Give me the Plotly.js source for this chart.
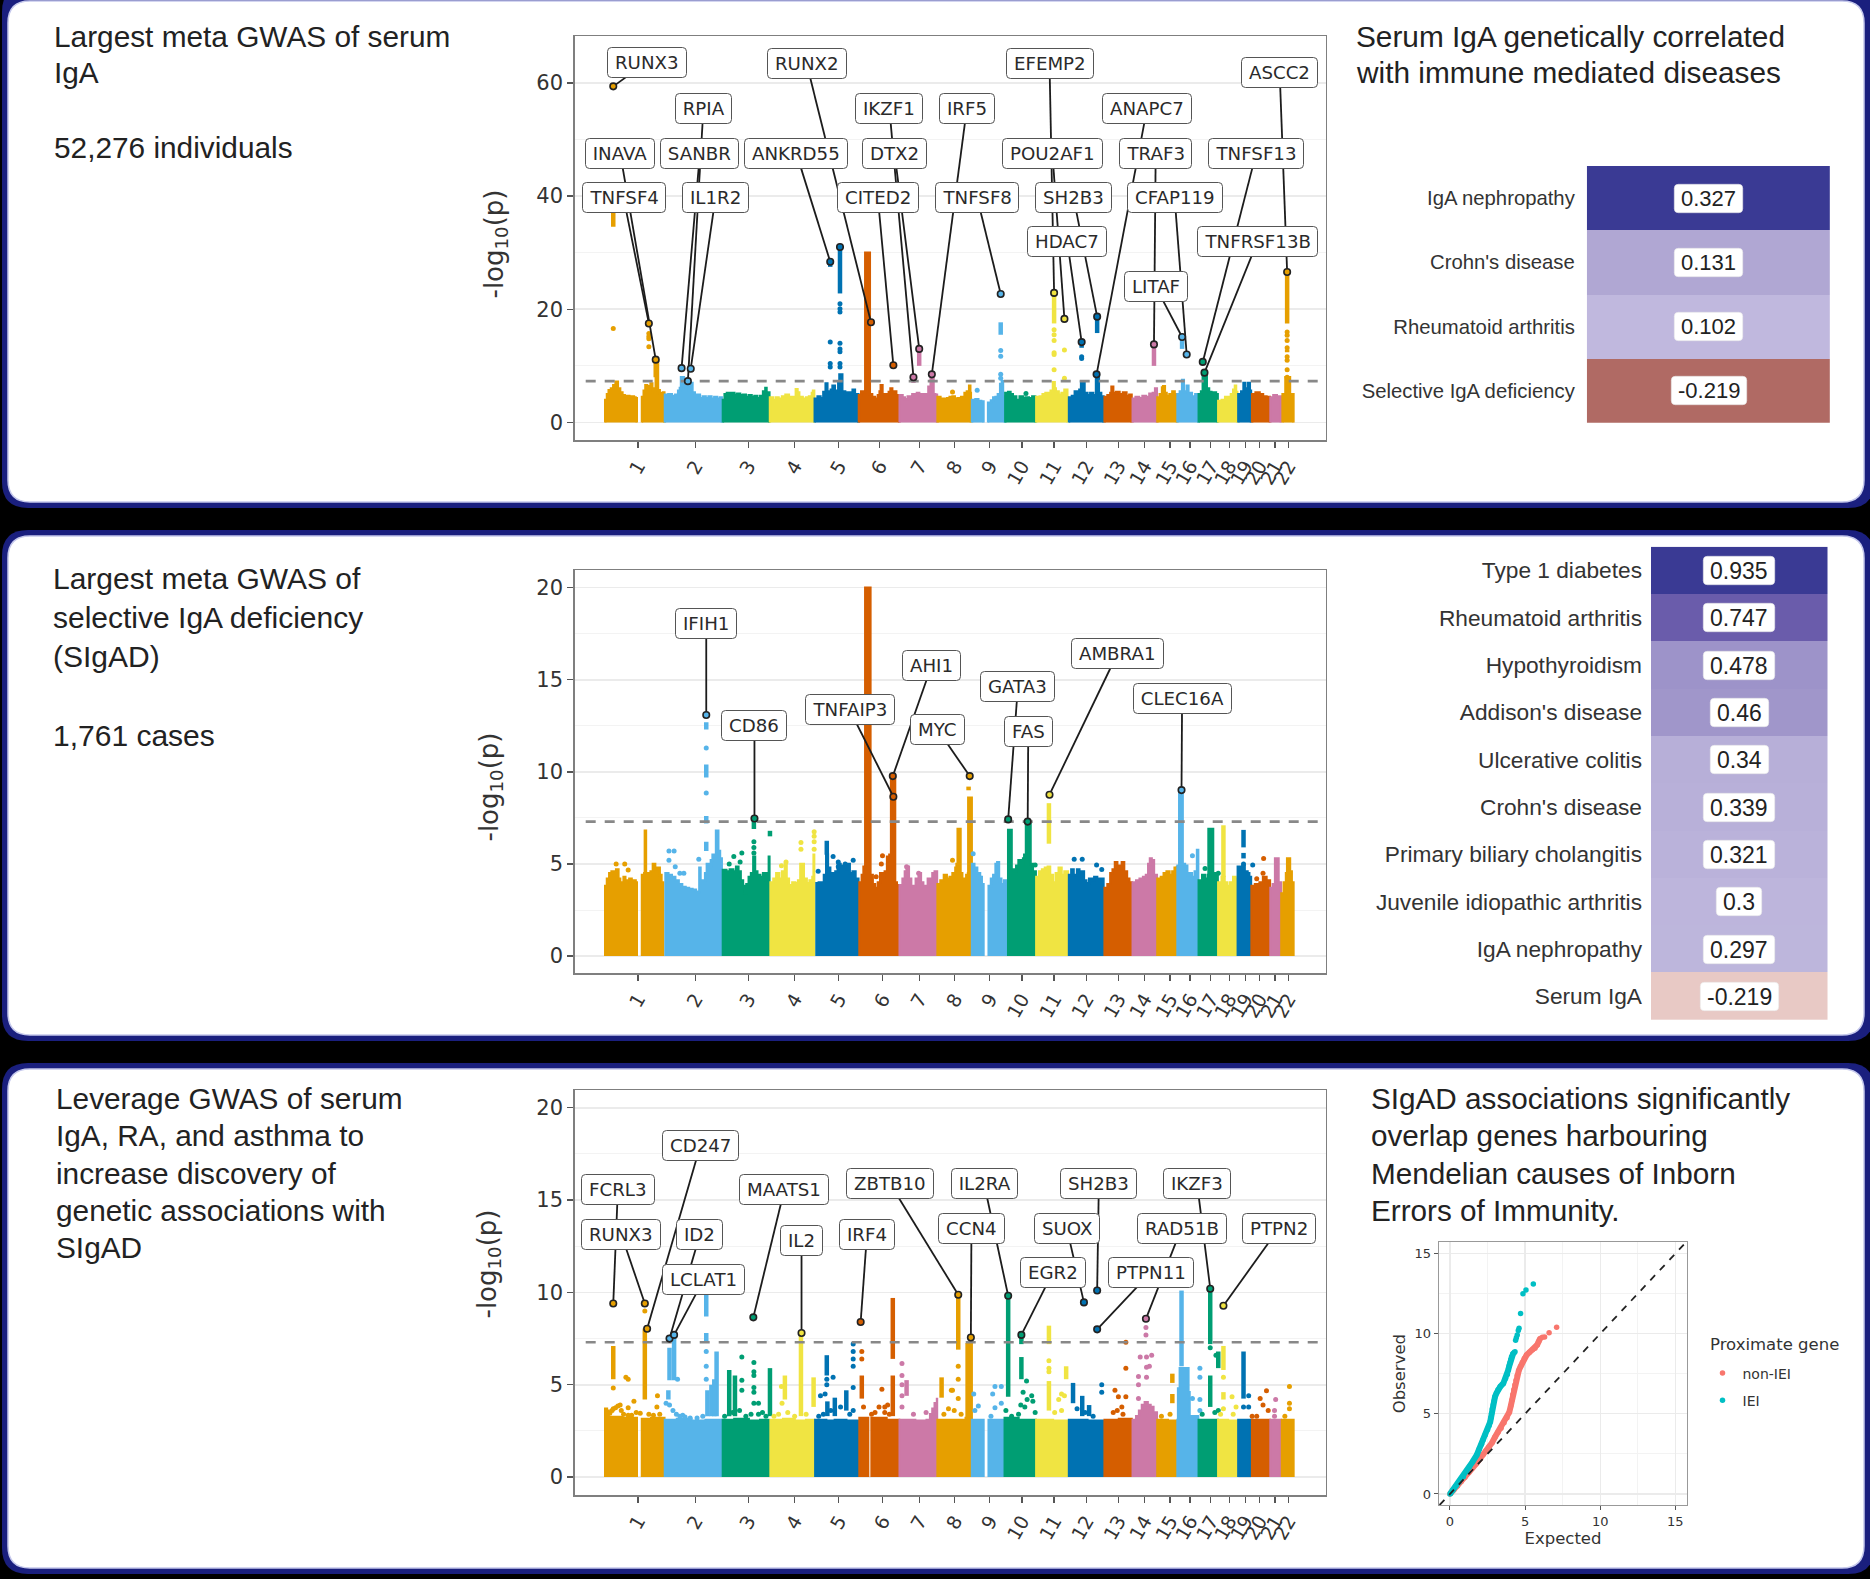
<!DOCTYPE html>
<html><head><meta charset="utf-8">
<script src="https://cdn.plot.ly/plotly-3.0.1.min.js"></script>
<style>html,body{margin:0;padding:0;background:#000}</style></head>
<body><div id="chart" style="width:1870px;height:1579px"></div>
<script>
// ---------- DATA (genome position unit = cumulative position along the concatenated autosomes, about 2.4 Mb each) ----------
const chromNames = ['1','2','3','4','5','6','7','8','9','10','11','12','13','14','15','16','17','18','19','20','21','22'];
const chromTicksIga = [57,157,249,330,407,478,547,609,670,726,782,838,894,939,984,1019,1055,1087,1115,1140,1167,1190];
const chromTicks = [57,157,249,330,407,483,547,609,670,726,782,838,894,939,984,1019,1055,1087,1115,1140,1167,1190];
const genomeWideThreshold = 7.3;

// -log10(p) upper envelope per chromosome: position, value, position, value ... (null = centromere break)
const igaEnvelope = [
 [0,4,3,5,6,5.7,10,6,14,6.6,18,7.2,22,6,26,5.3,30,4.8,34,4.6,38,4.7,42,4.4,46,4.6,50,4.4,55,4.5,null,64,4.5,67,5.6,70,6.6,73,5.6,76,6.4,79,6.9,82,5.6,85,6,87,5.2,88,11,90,11,92,5.7,95,5.2,98,5,101,5.3,103,4.8],
 [104,4.9,110,5,116,4.7,122,4.9,127,5.6,130,6.1,132,8,135,8,137,6.5,140,5.6,142,6.5,145,7,150,7,152,5.3,156,4.6,160,4.9,165,4.3,170,4.6,175,4.3,180,4.6,185,4.2,190,4.5,195,4.2,200,4.4,203,4],
 [205,4,208,5,212,5.2,216,4.8,220,5.2,225,4.9,230,5.1,235,4.8,240,4.9,245,4.5,250,4.8,255,4.5,260,4.7,265,4.3,270,4.7,275,5.5,279,6.1,281,5,283,5.3,286,4.5],
 [287,4.4,292,4,297,4.4,302,4.2,308,4.6,314,4.9,320,4.5,326,4.3,330,4.5,332,5.9,335,5.3,338,4.5,344,4.2,350,4.4,355,4.6,360,5.2,362,5.6,364,4.4],
 [365,4.2,370,4.6,375,4.3,380,5.4,384,6.9,387,5.5,390,5.2,393,5.8,396,6.5,400,5.6,403,5.4,406,7,408,8.5,411,8.5,413,5.5,418,5,422,5.3,427,5,431,5.8,435,5,441,4.8],
 [442,4.8,446,5.5,450,5.3,453,30,460,30,461,5,465,4.5,470,4.2,475,4.8,478,5.5,480,6.6,483,5,487,4.8,491,5,494,5.4,497,6,500,5.2,503,5.5,507,4.8,512,4.6],
 [513,4.8,518,4.4,522,4.1,527,4.6,531,4.3,535,5,539,4.5,543,5.2,547,4.8,551,5,555,4.6,559,5,563,6.3,566,5.4,567,8.4,570,8.4,572,5,575,4.9,578,4.6],
 [579,4.5,584,4.2,590,4.1,595,4.3,600,4.5,605,4.6,609,4.2,614,4.3,620,4.5,626,5.2,630,5.5,634,6.5,636,5.2,637,4.2],
 [639,4,645,4.1,650,3.8,655,3.7,659,3.5,null,667,3.5,672,3.9,676,4.4,680,4.5,684,5,688,6.8,691,7.3,693,4.6,696,4],
 [697,5.2,702,5.4,706,5,710,4.6,716,4,722,4.6,728,4.3,733,4.4,738,4.3,744,4.6,750,4.7],
 [751,4.5,757,4.6,762,5,767,5.2,772,5.2,776,5.6,780,7.1,783,6,785,5.5,790,4.9,795,5.2,800,5.8,805,4.9],
 [808,4.4,813,4.7,818,5.5,822,5.2,826,5.8,829,7.2,832,7.2,835,5.2,840,4.8,845,5.2,850,4.8,855,8.4,858,8.4,860,5.2,864,4.6,868,4.4],
 [870,4.5,875,4.8,880,5.2,882,6.3,885,5.2,890,5.4,896,5,902,5.3,908,4.7,913,4.9,917,4.4],
 [919,4.2,924,4.5,930,4.3,936,4.7,942,4.5,948,5.1,954,5.2,958,6,961,4.4],
 [962,4.4,966,5,970,6.2,972,6.4,975,5.2,978,4.7,983,5,988,5.5,992,5,996,4.5],
 [997,5,1001,5.5,1005,7.5,1008,5.3,1011,5.5,1013,6.5,1016,5.2,1022,4.6,1028,5,1033,4.8],
 [1034,5,1038,5.5,1041,8.8,1046,8.8,1048,6,1052,5.4,1056,5,1060,5.3,1064,5,1067,4.8],
 [1068,3.8,1074,4,1080,4.5,1086,4.5,1090,5,1094,5.8,1097,6.5,1099,5.4,1101,4.5],
 [1103,5,1108,5.5,1112,7,1115,5.8,1118,6,1120,7,1123,5.6,1125,5],
 [1127,5,1133,5.3,1140,5,1146,4.6,1152,4.5,1158,4.3],
 [1159,4.4,1164,4.8,1170,4.6,1177,4.4],
 [1180,5,1185,8,1191,8,1193,5,1199,4.8]
];
const sigadEnvelope = [
 [0,3.8,3,4.2,7,4.5,11,4.6,15,4.4,19,4.7,23,4.2,26,3.9,29,4,32,4.3,35,3.8,38,4.1,42,4.2,46,3.9,50,4.1,53,4,55,3.7,null,64,4.4,68,4.5,69,6.8,71,4.5,75,4.4,79,4.6,83,5,87,4.7,91,4.8,95,4.4,98,4,101,3.9],
 [105,4.5,110,4.4,116,4.3,122,4.1,128,3.9,134,3.75,140,3.7,146,3.65,152,3.6,158,3.5,162,3.45,164,4.8,166,3.6,170,4.1,174,4.5,177,5,180,4.8,184,5.2,187,5.5,190,5.4,193,6.8,195,6.8,197,5.7,200,5.3,203,4.3],
 [205,4.67,211,4.6,217,4.7,223,4.6,228,4.85,232,4.6,236,4.1,240,3.8,243,3.4,246,3.9,250,4.3,254,4.5,258,5.4,261,4.6,265,4.4,270,4.3,275,4.5,279,4.1,283,4.5,285,5.4,286,5.4],
 [288,4,293,4.2,298,4.5,303,4.2,308,4.6,313,5,316,4.2,320,3.85,326,4,331,3.95,336,4.1,340,5,343,5,346,4.2,351,3.95,356,4.1,361,4.3,363,5.5,364,4],
 [368,3.95,372,4,377,3.9,381,4.4,385,5.5,388,4.8,392,4.4,396,4.5,401,4.6,405,5,410,4.6,414,4.9,418,4.7,422,5,426,4.5,431,4.6,436,4.2,441,4.1],
 [443,4,447,4.4,450,4.85,452,4.85,453,20,461,20,462,4.4,466,3.9,470,3.7,475,4,479,4.5,483,4.2,487,4.6,491,5.4,495,5.5,497,5.5,498,9.7,504,9.7,505,4,508,3.85,512,3.85],
 [513,3.85,518,4.2,522,4.6,525,4.85,529,4.2,533,3.8,537,3.7,541,4.2,546,4.5,550,4,554,3.7,558,3.8,562,4.2,566,4,570,4.5,574,4.6,578,4.1],
 [579,3.9,584,4.1,590,4.4,595,4.2,600,4.3,605,4.5,610,4.8,612,5,614,6.9,617,6.9,619,4.5,622,4.2,625,4,629,4.4,632,4.5,632.5,8.6,638,8.6,638.5,5],
 [639,5,643,4.8,648,4.5,653,4.3,656,3.9,659,3.7,null,668,3.8,672,4.2,676,4.4,680,5,683,5.1,686,4.2,690,3.9,695,4.1,700,4],
 [702,6.85,706,6.85,708,4.7,712,4.6,716,4.9,720,5.2,724,4.9,728,5.3,730,5.5,733,7.2,739,7.2,741,5,745,4.6,750,4.2],
 [751,4.3,756,4.6,761,4.7,766,4.8,771,4.85,775,4.4,780,4,785,4.5,790,4.8,795,4.4,800,4.6,806,4.5],
 [808,4.4,812,4.7,816,4.4,822,4.7,826,4.3,830,4.6,834,4.1,838,3.95,843,4.2,848,4.1,852,4.3,857,4.2,862,4.2,868,4],
 [870,3.7,875,3.9,880,4.5,884,4.7,888,5.1,892,4.7,896,4.9,900,5.1,904,4.6,909,4.2,913,4,917,3.8],
 [919,4,925,4.1,931,4.2,937,4.3,942,4.4,946,5,949,5.3,952,5.2,956,4.4,961,4],
 [962,4.2,968,4.3,973,4.5,978,4.6,983,4.4,988,4.6,992,4.8,996,4.9],
 [997,4.9,1000,9,1005,9,1006,5,1010,4.9,1014,4.4,1018,4.5,1022,4.3,1027,4.6,1031,5.76,1033,4],
 [1034,4.1,1040,4.4,1045,4.2,1050,4.4,1051,6.9,1058,6.9,1059,4.3,1063,4.5,1067,4.4],
 [1068,4,1074,4.3,1079,4,1083,3.8,1088,4,1094,4.3,1098,4.2,1101,4],
 [1102,4.85,1106,4.7,1110,4.9,1114,4.6,1119,4.5,1122,4.3,1125,4.1],
 [1126,3.8,1132,3.9,1140,4,1146,4.3,1152,4.1,1158,4],
 [1159,3.7,1163,3.9,1167,5.3,1170,5.3,1173,4,1177,3.4],
 [1178,3.4,1182,4,1186,4.5,1188,5.3,1190,5.3,1193,4.6,1196,4,1199,3.4]
];
const leverageEnvelope = [
 [0,3.7,3,3.6,6,3.25,30,3.2,55,3.1,null,64,3.15,80,3.2,103,3.1],
 [104,3.1,125,3.15,150,3.05,175,3.1,203,3.1],
 [205,3.1,225,3.15,250,3.05,270,3.1,286,3.15],
 [288,3.1,310,3.15,330,3.05,350,3.1,364,3.1],
 [366,3.1,385,3.05,400,3.1,420,3.05,441,3.1],
 [443,3.2,458,3.1,null,464,3.2,490,3.1,512,3.1],
 [513,3.1,540,3.05,560,3.1,566,3.4,570,3.7,574,4,578,4.3],
 [579,3.1,600,3.1,628,3.2,629.5,7.2,638,7.2,638.5,3.1],
 [639,3.1,659,3.05,null,668,3.1,694,3.1],
 [696,3.2,720,3.1,750,3.1],
 [751,3.1,780,3.05,806,3.1],
 [808,3.1,840,3.05,868,3.1],
 [870,3.1,895,3.15,917,3.1],
 [919,3.1,925,3.3,930,3.6,935,3.9,940,4.05,945,3.9,950,3.8,955,3.5,961,3.1],
 [962,3.1,980,3.05,996,3.1],
 [997,3.1,998,4.8,1001,5.9,1014,5.9,1016,4.6,1018,3.3,1033,3.1],
 [1034,3.1,1050,3.1,1067,3.1],
 [1068,3.1,1085,3.05,1101,3.1],
 [1103,3.1,1125,3.1],
 [1127,3.1,1158,3.1],
 [1159,3.1,1177,3.1],
 [1179,3.1,1199,3.1]
];
// solid runs of points: chromosome, position, low, high
const igaColumns = [[1,14,34.6,37],[1,88,8,11],[5,409,22.8,31],[5,392,27.5,28.4],[7,547,10,13],[7,537,7,8],[9,689,15.5,17.7],
 [11,782,17.5,22.9],[11,800,17.8,18.5],[12,830,13.2,14.2],[12,857,15.8,18.7],[14,956,10,13.8],[16,1005,13,15],[22,1188,17.5,26.6],[22,1188,12.4,12.9]];
const sigadColumns = [[2,176,12.3,12.7],[2,176,9.7,10.4],[2,176,7.2,7.6],[2,176,5.7,6.2],[3,259,6.9,7.3],[3,287,6.5,6.8],[5,386,5.5,6.26],[8,633,9,9.2],
 [11,773,6.1,8.3],[18,1077,4.3,7.1],[19,1112,5.9,6.85],[19,1112,5.3,5.6]];
const leverageColumns = [[1,14,5.3,7.1],[1,69,4.2,8.05],[2,112,5.25,7],[2,120,5.25,7.8],[2,110,4.2,4.7],[2,176,8.7,9.9],[2,176,7.3,7.8],[2,194,3.3,6.8],[2,185,3.3,5],[2,190,3.3,5.3],[2,178,3.3,4.7],
 [3,216,3.3,5.8],[3,226,3.3,5.5],[3,287,3.3,5.9],[4,313,4.2,5.5],[4,341,3.3,7.8],[4,363,3.8,5.4],[5,386,5.5,6.6],[5,387,3.3,4.1],[5,400,3.3,4.3],[5,420,3.6,4.7],[6,447,4.25,5.5],[6,501,6.4,9.7],[6,501,3.3,5.5],
 [7,525,4.4,5.25],[8,586,4.3,5.4],[8,615,6.9,9.8],[10,702,4.35,9.82],[10,725,5.3,6.5],[10,725,7.2,7.7],[11,773,7.2,8.2],[11,773,3.6,5.2],[11,803,5.3,6],[12,815,4,5.1],[12,831,3.3,4.4],[12,843,3.3,3.9],
 [15,988,5.1,5.6],[15,988,4,4.5],[16,1004,6,10.1],[17,1054,7.2,10.2],[17,1054,3.8,5.5],[17,1068,5.9,6.8],[18,1077,5.8,7.1],[18,1077,4.2,4.6],[19,1112,4.25,6.8]];
// single points standing apart: chromosome, position, value
const igaDots = [[1,14,16.6],[1,76,15.7],[1,76,15.2],[1,76,14.8],[1,76,13.4],[5,392,14.2],[5,392,10.4],[5,392,9.8],[5,409,21],[5,409,20.1],[5,409,19.5],[5,409,14],[5,409,13],[5,409,12.5],[5,409,10.4],[5,409,9.8],
 [8,605,5.4],[9,648,5.7],[9,689,12.7],[9,689,11.7],[9,689,8.5],[9,689,7.8],[10,733,5.1],[11,782,16.4],[11,782,15.5],[11,782,14.5],[11,782,12.3],[11,782,12],[11,782,9.3],[11,800,12.8],[11,800,7.8],[12,830,11.6],[12,830,11.3],
 [22,1188,16],[22,1188,15.4],[22,1188,14.5],[22,1188,13.2],[22,1188,11.6],[22,1188,11],[22,1188,9.3],[22,1188,8]];
const sigadDots = [[1,19,5],[1,34,5],[1,40,4.67],[2,111,5.7],[2,120,5.7],[2,111,5.2],[2,122,4.85],[2,130,4.5],[2,137,4.5],[2,163,5.25],[2,176,11.3],[2,176,8.85],[3,216,5],[3,224,5.4],[3,238,5.6],[3,235,5.1],[3,259,6.2],[3,259,5.9],[3,259,5.6],
 [4,307,4.9],[4,315,5.1],[4,341,6.17],[4,341,5.8],[4,364,6.75],[4,364,6.5],[4,364,6.2],[4,364,5.8],[5,371,4.6],[5,397,5.4],[5,406,5.1],[5,406,4.85],[5,418,5],[5,432,5.2],[6,483,5.45],[6,481,5],[6,472,4.3],
 [7,525,4.85],[7,546,4.5],[8,605,5.2],[9,641,5.55],[9,651,4.3],[10,749,4.94],[12,817,5.25],[12,831,5.25],[12,856,4.94],[12,865,4.7],[16,1023,5.45],[17,1045,4.76],[17,1055,4.76],[17,1068,4.5],[19,1112,5],[19,1128,4.94],[20,1147,5.3],[20,1146,4.5],[20,1135,4.2]];
const leverageDots = [[1,14,4.83],[1,36,5.4],[1,40,5.3],[1,50,4.1],[1,26,3.9],[1,14,3.7],[1,40,3.75],[1,40,3.35],[1,69,9],[1,91,4.4],[1,90,3.8],[1,8,3.45],[1,12,3.6],[1,18,3.75],[1,22,3.85],[1,28,3.6],[1,32,3.4],[1,46,3.35],[1,54,3.5],[1,61,3.45],[1,76,3.4],[1,84,3.35],[1,95,3.4],
 [2,126,5.3],[2,135,3.35],[2,139,3.26],[2,176,6.8],[2,176,6],[2,176,5.3],[2,106,4],[2,112,3.9],[2,118,3.6],[2,124,3.4],[2,130,3.3],[2,148,3.2],[2,160,3.2],[2,170,3.3],
 [3,238,6.5],[3,238,5.25],[3,238,4.7],[3,259,6.2],[3,259,5.7],[3,259,5.5],[3,259,4.85],[3,259,4.6],[3,259,4],[3,267,4],[3,267,3.4],[3,208,3.3],[3,222,3.5],[3,234,3.6],[3,245,3.3],[3,254,3.4],[3,274,3.5],[3,280,3.3],[4,307,4.9],[4,294,3.3],[4,302,3.4],[4,308,4],[4,318,3.5],[4,330,3.3],[4,350,3.4],[5,375,4.4],[5,383,4.5],[5,386,5.3],[5,386,5],[5,397,5.4],[5,432,7.2],[5,432,6.8],[5,432,6.4],[5,432,6],[5,432,4.85],[5,432,3.6],[5,372,3.3],[5,380,3.4],[5,393,3.6],[5,410,3.8],[5,426,3.4],
 [6,447,6.8],[6,447,6.4],[6,450,3.8],[6,464,3.4],[6,482,4.75],[6,487,3.8],[6,487,3.5],[6,470,3.5],[6,477,3.8],[6,492,3.9],[6,495,3.4],[7,517,6.15],[7,517,5.5],[7,517,5],[7,517,4.4],[7,517,3.8],[7,537,3.4],[7,559,3.5],[8,603,4.7],[8,605,4.7],[8,615,6],[8,615,5.3],[8,615,4.25],[8,590,3.4],[8,598,3.7],[8,608,3.6],[8,620,3.4],
 [9,642,4.5],[9,650,3.85],[9,644,3.6],[9,679,4.9],[9,690,4.9],[9,675,4.5],[9,690,4],[9,679,3.75],[9,672,3.3],[10,734,5.2],[10,743,4.4],[10,745,4.1],[10,749,3.5],[10,731,3.8],[10,698,3.6],[10,708,3.3],[10,720,3.4],[10,728,4.6],[10,735,4.2],[10,724,3.9],[11,773,6.3],[11,773,5.9],[11,773,5.7],[11,795,3.6],[11,795,4.5],[11,790,4.2],[11,800,4.4],[11,783,3.5],[12,865,5],[12,865,4.6],[12,822,3.7],[12,836,3.5],[12,850,3.3],
 [13,888,4.7],[13,894,4.35],[13,907,4.35],[13,907,5.9],[13,907,7.3],[13,900,3.8],[13,885,3.5],[13,892,3.6],[13,902,3.4],[14,942,8.1],[14,942,7.7],[14,932,6.5],[14,952,6.6],[14,943,6.5],[14,948,6],[14,943,5.95],[14,929,5.45],[14,943,5.4],[14,929,5],[14,929,4.25],
 [15,969,3.3],[15,984,3.4],[16,1023,4.25],[16,1036,5.9],[16,1036,5.4],[16,1036,4.2],[16,1036,3.6],[17,1054,7],[17,1064,6.6],[17,1068,3.6],[17,1040,3.4],[17,1062,3.5],[18,1077,5.4],[18,1077,3.7],[18,1092,4.35],[18,1099,3.8],[18,1094,3.4],[18,1072,3.4],[19,1112,3.8],[19,1121,4.4],[19,1121,3.8],
 [20,1152,4.67],[20,1141,4.25],[20,1146,3.9],[20,1155,3.6],[20,1127,3.3],[20,1135,3.3],[21,1168,4.2],[21,1166,3.6],[21,1166,3.3],[22,1192,4.9],[22,1192,4],[22,1192,3.7],[22,1184,3.3]];

// lead variants
const igaGenes = ['RUNX3','TNFSF4','INAVA','SANBR','RPIA','IL1R2','ANKRD55','','RUNX2','CITED2','IKZF1','DTX2','IRF5','TNFSF8','EFEMP2','POU2AF1','SH2B3','HDAC7','ANAPC7','TRAF3','CFAP119','LITAF','TNFSF13','TNFRSF13B','ASCC2'];
const igaChrom = [1,1,1,2,2,2,5,5,6,6,7,7,7,9,11,11,12,12,12,14,16,16,17,17,22];
const igaPos   = [14,76,88,133,144,149,392,409,463,502,537,547,569,689,782,800,857,830,856,956,1013,1005,1041,1044,1188];
const igaLogP  = [59.4,17.5,11.1,9.6,7.3,9.5,28.4,31,17.7,10.1,8,13,8.5,22.7,22.9,18.3,18.7,14.2,8.5,13.8,12,15.1,10.7,8.8,26.6];

const sigadGenes = ['IFIH1','CD86','TNFAIP3','AHI1','MYC','GATA3','FAS','AMBRA1','CLEC16A'];
const sigadChrom = [2,3,6,6,8,10,10,11,16];
const sigadPos   = [176,260,502,501,635,702,736,774,1004];
const sigadLogP  = [13.09,7.47,8.65,9.77,9.77,7.42,7.3,8.76,9.01];

const leverageGenes = ['FCRL3','RUNX3','CD247','ID2','LCLAT1','MAATS1','IL2','IRF4','ZBTB10','CCN4','IL2RA','EGR2','SUOX','SH2B3','PTPN11','RAD51B','IKZF3','PTPN2'];
const leverageChrom = [1,1,1,2,2,3,4,6,8,8,10,10,12,12,12,14,17,18];
const leveragePos   = [14,69,73,112,120,258,342,445,615,637,702,725,834,857,857,942,1054,1077];
const leverageLogP  = [9.4,9.4,8.03,7.5,7.7,8.65,7.8,8.4,9.87,7.56,9.82,7.7,9.46,10.1,8,8.57,10.2,9.28];

// genetic correlation tables
const igaTraits = ['IgA nephropathy',"Crohn's disease",'Rheumatoid arthritis','Selective IgA deficiency'];
const igaRg = [0.327,0.131,0.102,-0.219];
const sigadTraits = ['Type 1 diabetes','Rheumatoid arthritis','Hypothyroidism',"Addison's disease",'Ulcerative colitis',"Crohn's disease",'Primary biliary cholangitis','Juvenile idiopathic arthritis','IgA nephropathy','Serum IgA'];
const sigadRg = [0.935,0.747,0.478,0.46,0.34,0.339,0.321,0.3,0.297,-0.219];

// QQ plot points
const qqNonExpected = [0,0.25,0.5,0.75,1,1.25,1.5,1.75,2,2.2,2.4,2.6,2.8,3,3.2,3.4,3.6,3.8,3.95,4.05,4.12,4.18,4.25,4.32,4.4,4.48,4.58,4.7,4.82,4.95,5.1,5.3,5.5,5.66,5.8,5.9,6,6.15,6.3,6.6,7.1];
const qqNonObserved = [0,0.25,0.5,0.78,1.05,1.33,1.62,1.9,2.2,2.45,2.7,2.95,3.2,3.55,3.85,4.1,4.45,4.75,5.1,5.5,5.85,6.2,6.5,6.8,7.1,7.4,7.7,7.95,8.2,8.45,8.67,8.85,9,9.1,9.3,9.5,9.7,9.78,9.8,10.07,10.4];
const qqIeiExpected = [0,0.2,0.4,0.6,0.89,1.1,1.3,1.5,1.78,1.95,2.1,2.2,2.35,2.5,2.6,2.68,2.73,2.77,2.82,2.88,2.94,3,3.1,3.2,3.35,3.55,3.7,3.82,3.88,3.95,4,4.05,4.1,4.2,4.33,4.37,4.42,4.48,4.55,4.6,4.7,4.86,5.06,5.55];
const qqIeiObserved = [0,0.25,0.5,0.75,1.08,1.4,1.7,2,2.43,2.8,3.1,3.37,3.7,4,4.25,4.5,4.75,5.03,5.3,5.55,5.8,6.07,6.3,6.5,6.7,6.9,7.2,7.45,7.74,8,8.2,8.4,8.57,8.75,8.88,9.6,9.75,9.92,10.2,10.34,11.27,12.5,12.73,13.1];
const qqGroupNames = ['non-IEI','IEI'];

// ---------- LABEL PLACEMENT (repelled label centres, in axis units) ----------
const igaLabelPlace = [[72,63.66],[32,39.7],[26,47.6],[165,47.6],[171,55.5],[192,39.7],[333,47.6],null,[351,63.4],[475,39.7],[495,55.5],[504,47.6],[630,55.5],[648,39.7],[774,63.4],[779,47.6],[816,39.7],[805,31.9],[944,55.5],[959,47.6],[992,39.7],[959,24],[1134,47.6],[1136,31.9],[1175,61.8]];
const sigadLabelPlace = [[176,18.07],[260,12.5],[426,13.36],[569,15.8],[579,12.3],[719,14.66],[737,12.2],[892,16.4],[1005,14]];
const leverageLabelPlace = [[22,15.56],[28,13.14],[166,17.98],[165,13.14],[172,10.72],[312,15.56],[342,12.8],[456,13.14],[496,15.9],[638,13.46],[660,15.9],[780,11.1],[804,13.48],[860,15.92],[951,11.1],[1004,13.48],[1031,15.92],[1174,13.48]];

// ---------- STYLE / LAYOUT ----------
const W=1870,H=1579;
const palette=['#E69F00','#56B4E9','#009E73','#F0E442','#0072B2','#D55E00','#CC79A7'];
const colorOf=c=>palette[(c-1)%7];
const DJ='"DejaVu Sans", sans-serif', LB='"Liberation Sans", Arial, sans-serif', INK='#333333';
const px=x=>x/W, py=y=>1-y/H;
const traces=[], annotations=[], shapes=[];
const canvas=document.createElement('canvas').getContext('2d');
const measure=(t,f)=>{canvas.font=f;return canvas.measureText(t).width;};

function roundRect(x0,y0,x1,y1,r,fill,line,lw){
  const X=v=>px(v).toFixed(5),Y=v=>py(v).toFixed(5);
  const d=`M${X(x0+r)},${Y(y0)} L${X(x1-r)},${Y(y0)} Q${X(x1)},${Y(y0)} ${X(x1)},${Y(y0+r)} L${X(x1)},${Y(y1-r)} Q${X(x1)},${Y(y1)} ${X(x1-r)},${Y(y1)} L${X(x0+r)},${Y(y1)} Q${X(x0)},${Y(y1)} ${X(x0)},${Y(y1-r)} L${X(x0)},${Y(y0+r)} Q${X(x0)},${Y(y0)} ${X(x0+r)},${Y(y0)} Z`;
  shapes.push({type:'path',xref:'paper',yref:'paper',path:d,fillcolor:fill,line:{color:line||fill,width:lw||0},layer:'below'});
}
[[2,-14,1874,508],[2,530,1874,1041],[2,1063,1874,1574]].forEach(b=>roundRect(b[0],b[1],b[2],b[3],26,'#1a1f7e'));
[[8,1,1864,502],[8,536,1864,1035],[8,1069,1864,1568]].forEach(b=>roundRect(b[0],b[1],b[2],b[3],22,'#ffffff','#c5c8ec',1.5));

function textLines(lines,x,ys,size){lines.forEach((s,i)=>annotations.push({xref:'paper',yref:'paper',x:px(x),y:py(ys[i]),xanchor:'left',yanchor:'middle',align:'left',showarrow:false,text:s,font:{family:LB,size:size,color:'#222222'}}));}
textLines(['Largest meta GWAS of serum','IgA','52,276 individuals'],52,[36.5,73,147.5],29.8);
textLines(['Serum IgA genetically correlated','with immune mediated diseases'],1354,[36.5,73],29.8);
textLines(['Largest meta GWAS of','selective IgA deficiency','(SIgAD)','1,761 cases'],51,[578.5,617.5,656.5,735],30);
textLines(['Leverage GWAS of serum','IgA, RA, and asthma to','increase discovery of','genetic associations with','SIgAD'],54,[1098.5,1135.5,1173.5,1210.5,1247.5],29.8);
textLines(['SIgAD associations significantly','overlap genes harbouring','Mendelian causes of Inborn','Errors of Immunity.'],1368.5,[1098.5,1135.5,1173.5,1210.5],29.7);

const layout={width:W,height:H,margin:{l:0,r:0,t:0,b:0},paper_bgcolor:'#000000',plot_bgcolor:'rgba(0,0,0,0)',showlegend:true,shapes,annotations,hovermode:false,
  legend:{x:px(1702.5),y:py(1357.5),xanchor:'left',yanchor:'top',bgcolor:'rgba(0,0,0,0)',font:{family:DJ,size:14,color:INK},tracegroupgap:6,itemsizing:'trace',itemwidth:30}};
annotations.push({xref:'paper',yref:'paper',x:px(1707.5),y:py(1344),xanchor:'left',yanchor:'middle',showarrow:false,text:'Proximate gene',font:{family:DJ,size:16.5,color:INK}});

function yTitle(x,y){annotations.push({xref:'paper',yref:'paper',x:px(x),y:py(y),xanchor:'center',yanchor:'middle',textangle:-90,showarrow:false,text:'-log<sub>10</sub>(p)',font:{family:DJ,size:26,color:INK}});}
yTitle(495.5,244);yTitle(490.5,787);yTitle(487.5,1264);

function axisId(n){return n===1?'':String(n);}
function manhattan(n,dom,yr,yticks,yminor,ticks,env,cols,dots,genes,chroms,pos,logp,place){
  const xa='x'+axisId(n),ya='y'+axisId(n);
  layout['xaxis'+axisId(n)]={domain:[px(dom[0]),px(dom[2])],range:[-53,1255],anchor:ya,showgrid:false,zeroline:false,showline:true,mirror:true,linecolor:'#7f7f7f',linewidth:1.5,
    tickmode:'array',tickvals:ticks,ticktext:chromNames,tickangle:-60,ticklabelshift:1.5,ticks:'outside',ticklen:6,tickcolor:'#555',tickwidth:1.3,tickfont:{family:DJ,size:19,color:INK}};
  layout['yaxis'+axisId(n)]={domain:[py(dom[3]),py(dom[1])],range:yr,anchor:xa,zeroline:false,showline:true,mirror:true,linecolor:'#7f7f7f',linewidth:1.5,
    tickmode:'array',tickvals:yticks,ticks:'outside',ticklen:6,tickcolor:'#555',tickwidth:1.3,tickfont:{family:DJ,size:21,color:INK},
    gridcolor:'#ebebeb',gridwidth:1.6,minor:{tickvals:yminor,showgrid:true,gridcolor:'#f3f3f3',gridwidth:1,ticks:''}};
  const common={xaxis:xa,yaxis:ya,showlegend:false,hoverinfo:'skip'};
  env.forEach((flat,i)=>{
    const xs=[],ys=[];let seg=[];
    const close=()=>{ if(!seg.length)return; xs.push(seg[0]);ys.push(0); for(let k=0;k<seg.length;k+=2){xs.push(seg[k]);ys.push(seg[k+1]);} xs.push(seg[seg.length-2]);ys.push(0); xs.push(null);ys.push(null); seg=[];};
    for(let k=0;k<flat.length;){ if(flat[k]===null){close();k++;} else {seg.push(flat[k],flat[k+1]);k+=2;} }
    close();
    traces.push({...common,type:'scatter',mode:'lines',x:xs,y:ys,fill:'toself',fillcolor:colorOf(i+1),line:{color:colorOf(i+1),width:2.4,shape:'hv'}});
  });
  chromNames.forEach((_,i)=>{
    const xs=[],ys=[];cols.filter(c=>c[0]===i+1).forEach(c=>{xs.push(c[1],c[1],null);ys.push(c[2],c[3],null);});
    if(xs.length)traces.push({...common,type:'scatter',mode:'lines',x:xs,y:ys,line:{color:colorOf(i+1),width:4.5}});
  });
  traces.push({...common,type:'scatter',mode:'markers',x:dots.map(d=>d[1]),y:dots.map(d=>d[2]),marker:{size:5,color:dots.map(d=>colorOf(d[0]))}});
  traces.push({...common,type:'scatter',mode:'lines',x:[-34,1255],y:[genomeWideThreshold,genomeWideThreshold],line:{color:'#888888',width:2.6,dash:'10px,9px'}});
  const sx=[],sy=[];
  genes.forEach((g,i)=>{ if(place[i]){sx.push(pos[i],place[i][0],null);sy.push(logp[i],place[i][1],null);} });
  traces.push({...common,type:'scatter',mode:'lines',x:sx,y:sy,line:{color:'#1c1c1c',width:1.8}});
  traces.push({...common,type:'scatter',mode:'markers',x:pos,y:logp,marker:{size:6.5,color:chroms.map(colorOf),line:{color:'#222222',width:1.6}}});
  genes.forEach((g,i)=>{ if(!place[i])return;
    annotations.push({xref:xa,yref:ya,x:place[i][0],y:place[i][1],xanchor:'center',yanchor:'middle',showarrow:false,text:g,
      font:{family:DJ,size:18.2,color:'#2a2a2a'},bgcolor:'#ffffff',bordercolor:'#555555',borderwidth:1,borderpad:2,width:measure(g,'18.2px "DejaVu Sans"')+10,height:25,align:'center'});
  });
}
manhattan(1,[574.8,36,1325.6,440],[-3.1,68.3],[0,20,40,60],[10,30,50],chromTicksIga,igaEnvelope,igaColumns,igaDots,igaGenes,igaChrom,igaPos,igaLogP,igaLabelPlace);
manhattan(2,[574.8,570,1325.6,973],[-0.92,20.96],[0,5,10,15,20],[2.5,7.5,12.5,17.5],chromTicks,sigadEnvelope,sigadColumns,sigadDots,sigadGenes,sigadChrom,sigadPos,sigadLogP,sigadLabelPlace);
manhattan(3,[574.8,1090,1325.6,1495],[-0.97,20.96],[0,5,10,15,20],[2.5,7.5,12.5,17.5],chromTicks,leverageEnvelope,leverageColumns,leverageDots,leverageGenes,leverageChrom,leveragePos,leverageLogP,leverageLabelPlace);

function heat(n,dom,traits,vals,colors,tickSize,valSize,standoff){
  const xa='x'+n,ya='y'+n;
  const order=vals.map((v,i)=>[v,colors[i]]).sort((a,b)=>a[0]-b[0]);
  const lo=order[0][0],hi=order[order.length-1][0];
  traces.push({type:'heatmap',xaxis:xa,yaxis:ya,x:[0],y:traits,z:vals.map(v=>[v]),zmin:lo,zmax:hi,showscale:false,hoverinfo:'skip',
    colorscale:order.map(o=>[(o[0]-lo)/(hi-lo),o[1]])});
  layout['xaxis'+n]={domain:[px(dom[0]),px(dom[2])],range:[-0.5,0.5],anchor:ya,visible:false};
  layout['yaxis'+n]={domain:[py(dom[3]),py(dom[1])],anchor:xa,type:'category',autorange:'reversed',showgrid:false,zeroline:false,showline:false,ticks:'',ticklabelstandoff:standoff,
    tickfont:{family:LB,size:tickSize,color:INK}};
  traits.forEach((t,i)=>{const s=String(vals[i]);
    annotations.push({xref:xa,yref:ya,x:0,y:t,xanchor:'center',yanchor:'middle',showarrow:false,text:s,font:{family:LB,size:valSize,color:'#222'},bgcolor:'#ffffff',bordercolor:'#e4e4e4',borderwidth:0.5,borderpad:0,
      width:measure(s,valSize+'px "Liberation Sans"')+13,height:28,align:'center'});});
}
heat(4,[1586.8,166,1830.2,422.7],igaTraits,igaRg,['#3a3a94','#b0a7d3','#c0b8de','#b06a64'],20.3,22,11);
heat(5,[1651,546.7,1827.5,1020],sigadTraits,sigadRg,['#3a3a94','#6a5cab','#9d93c9','#a096ca','#b7afd8','#b8b0d9','#bab2da','#bdb5dc','#bdb6dc','#e8c9c5'],22.7,23,8);

// QQ
layout.xaxis6={domain:[px(1439),px(1687)],range:[-0.73,15.78],anchor:'y6',zeroline:false,showline:true,mirror:true,linecolor:'#999999',linewidth:1.3,tickmode:'array',tickvals:[0,5,10,15],ticks:'outside',ticklen:4,tickcolor:'#555',tickfont:{family:DJ,size:13,color:INK},
  gridcolor:'#ebebeb',gridwidth:1.2,minor:{tickvals:[2.5,7.5,12.5],showgrid:true,gridcolor:'#f3f3f3',gridwidth:1,ticks:''},title:{text:'Expected',font:{family:DJ,size:16.5,color:INK},standoff:4}};
layout.yaxis6={domain:[py(1505),py(1242.3)],range:[-0.69,15.71],anchor:'x6',zeroline:false,showline:true,mirror:true,linecolor:'#999999',linewidth:1.3,tickmode:'array',tickvals:[0,5,10,15],ticks:'outside',ticklen:4,tickcolor:'#555',tickfont:{family:DJ,size:13,color:INK},
  gridcolor:'#ebebeb',gridwidth:1.2,minor:{tickvals:[2.5,7.5,12.5],showgrid:true,gridcolor:'#f3f3f3',gridwidth:1,ticks:''},title:{text:'Observed',font:{family:DJ,size:16.5,color:INK},standoff:4}};
const qqQuiet={xaxis:'x6',yaxis:'y6',type:'scatter',mode:'lines',showlegend:false,hoverinfo:'skip'};
traces.push({...qqQuiet,x:qqNonExpected.slice(0,37),y:qqNonObserved.slice(0,37),line:{color:'#F8766D',width:6}});
traces.push({xaxis:'x6',yaxis:'y6',type:'scatter',mode:'markers',name:qqGroupNames[0],legendgroup:'a',x:qqNonExpected,y:qqNonObserved,marker:{size:5.5,color:'#F8766D'},hoverinfo:'skip'});
traces.push({...qqQuiet,x:qqIeiExpected.slice(0,35),y:qqIeiObserved.slice(0,35),line:{color:'#00BFC4',width:6}});
traces.push({xaxis:'x6',yaxis:'y6',type:'scatter',mode:'markers',name:qqGroupNames[1],legendgroup:'b',x:qqIeiExpected,y:qqIeiObserved,marker:{size:5.5,color:'#00BFC4'},hoverinfo:'skip'});
traces.push({...qqQuiet,x:[-0.69,15.75],y:[-0.69,15.75],line:{color:'#222222',width:1.8,dash:'7px,7px'}});

Plotly.newPlot('chart',traces,layout,{displayModeBar:false,staticPlot:true}).then(()=>{
  document.querySelectorAll('.annotation rect.bg').forEach(r=>{r.setAttribute('rx','4');r.setAttribute('ry','4');});
  document.querySelectorAll('#chart svg text').forEach(t=>{if(!t.textContent.trim())t.remove();});
});
</script></body></html>
